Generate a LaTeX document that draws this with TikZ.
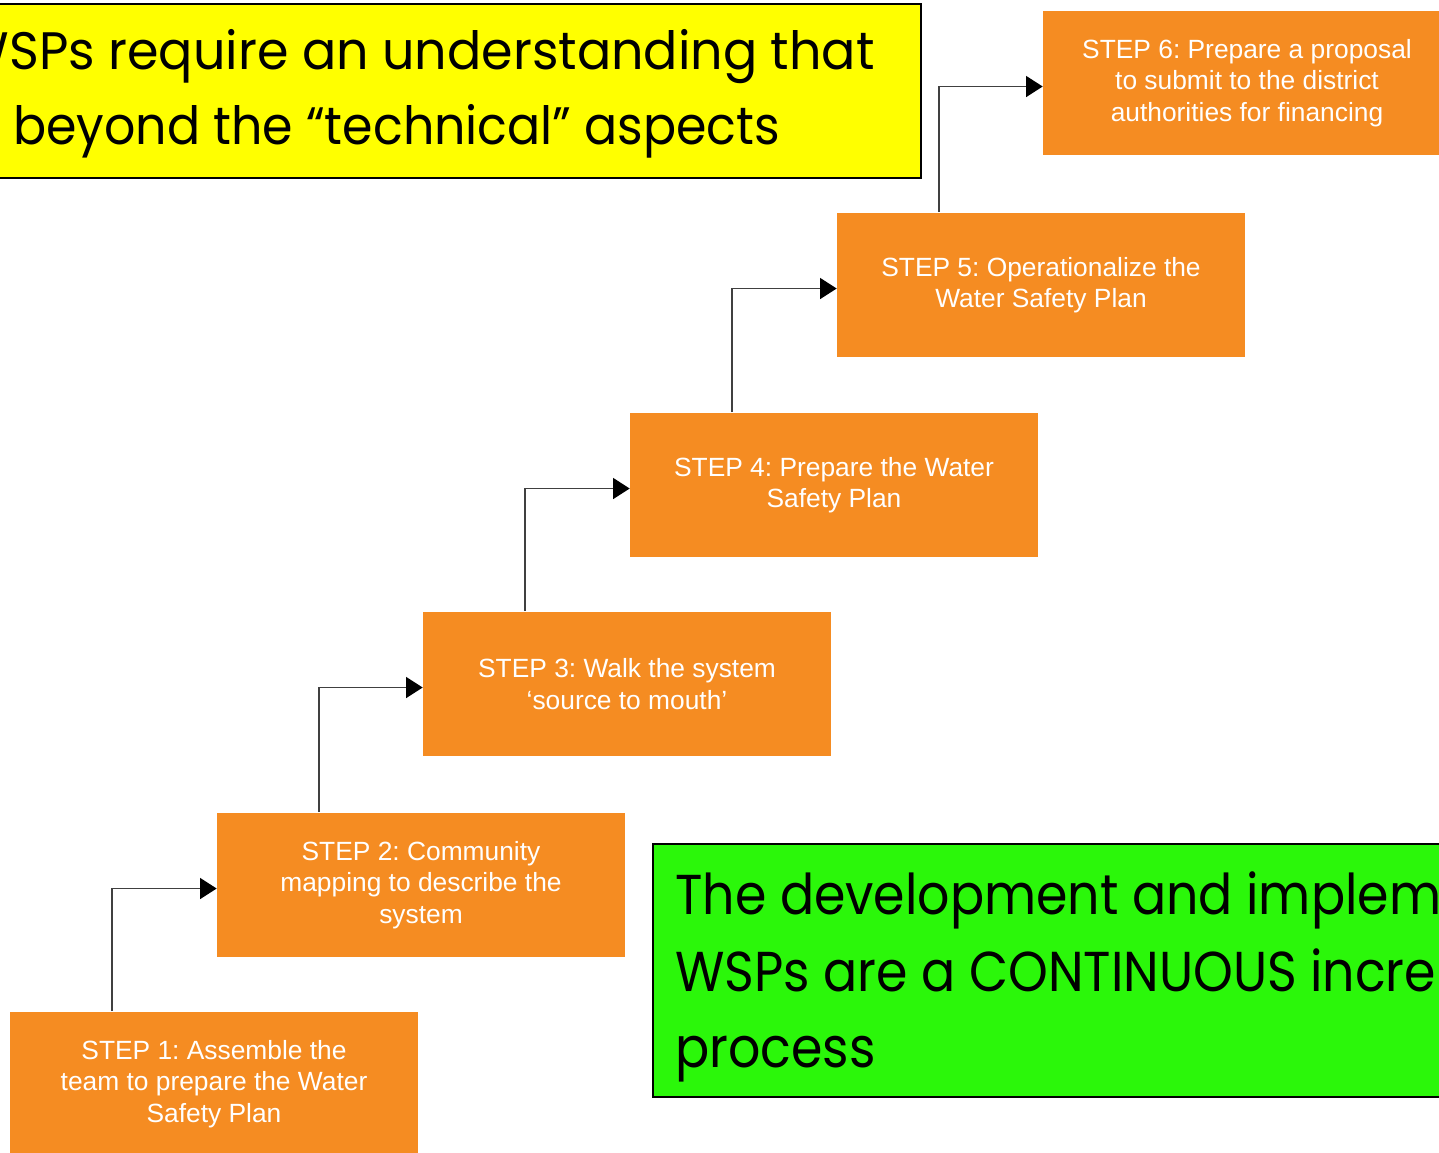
\documentclass[tikz,border=0pt]{standalone}
\usepackage{fontspec}
\usepackage{graphicx}
\setmainfont{Liberation Sans}
\newfontfamily\bigfont{Poppins}
\usetikzlibrary{arrows.meta,calc}
\definecolor{steporange}{RGB}{245,140,34}
\definecolor{noteyellow}{RGB}{255,255,0}
\definecolor{notegreen}{RGB}{43,247,10}
\frenchspacing
\newcommand{\sqz}{0.9}
\newcommand{\squeeze}[1]{\scalebox{\sqz}[1]{#1}}
\tikzstyle{arrow} = [-{Triangle[length=9.5pt,width=12pt,color=black]},draw=black!75,line width=0.8pt]
\tikzstyle{stepbox} = [fill=steporange,text=white,align=center,minimum width=8.16cm,minimum height=2.9cm,font=\fontsize{15}{17.8}\selectfont]
\tikzstyle{note} = [draw=black,line width=1.1pt,inner sep=0pt]
\tikzstyle{bigtext} = [inner sep=0pt,font=\bigfont\fontsize{30}{36}\selectfont]

\begin{document}
\begin{tikzpicture}[x=0.02cm,y=-0.02cm]
        \useasboundingbox (0,0) rectangle (1439,1152);
        \clip (0,0) rectangle (1439,1152);

        \node[note, fill=noteyellow, anchor=north east, minimum width=19.64cm, minimum height=3.48cm] (why) at (922,3) {};
        \node[bigtext, anchor=base east] (why1) at (875,70) {\resizebox{18.3cm}{\height}{WSPs require an understanding that}};
        \node[bigtext, anchor=base west] (why2) at (13,145) {\resizebox{15.34cm}{\height}{beyond the “technical” aspects}};

        \node[note, fill=notegreen, anchor=north west, minimum width=16.8cm, minimum height=5.06cm] (cont) at (652,843) {};
        \node[bigtext, anchor=base west, font=\bigfont\fontsize{32}{38}\selectfont] (cont1) at (675,914) {\squeeze{The development and implementation of}};
        \node[bigtext, anchor=base west, font=\bigfont\fontsize{32}{38}\selectfont] (cont2) at (675,991) {\squeeze{WSPs are a CONTINUOUS incremental}};
        \node[bigtext, anchor=base west, font=\bigfont\fontsize{32}{38}\selectfont] (cont3) at (675,1067) {\squeeze{process}};

        \node[stepbox] (s1) at (214,1084) {STEP 1: Assemble the\\team to prepare the Water\\Safety Plan};
        \node[stepbox] (s2) at (421,885) {STEP 2: Community\\mapping to describe the\\system};
        \node[stepbox] (s3) at (627,684) {STEP 3: Walk the system\\‘source to mouth’};
        \node[stepbox] (s4) at (834,485) {STEP 4: Prepare the Water\\Safety Plan};
        \node[stepbox] (s5) at (1041,285) {STEP 5: Operationalize the\\Water Safety Plan};
        \node[stepbox] (s6) at (1247,83) {STEP 6: Prepare a proposal\\to submit to the district\\authorities for financing};

        \draw[arrow] ($(s1.north west)!0.25!(s1.north east)$) |- ([yshift=-2pt]s2.west);
        \draw[arrow] ($(s2.north west)!0.25!(s2.north east)$) |- ([yshift=-2pt]s3.west);
        \draw[arrow] ($(s3.north west)!0.25!(s3.north east)$) |- ([yshift=-2pt]s4.west);
        \draw[arrow] ($(s4.north west)!0.25!(s4.north east)$) |- ([yshift=-2pt]s5.west);
        \draw[arrow] ($(s5.north west)!0.25!(s5.north east)$) |- ([yshift=-2pt]s6.west);
\end{tikzpicture}
\end{document}
